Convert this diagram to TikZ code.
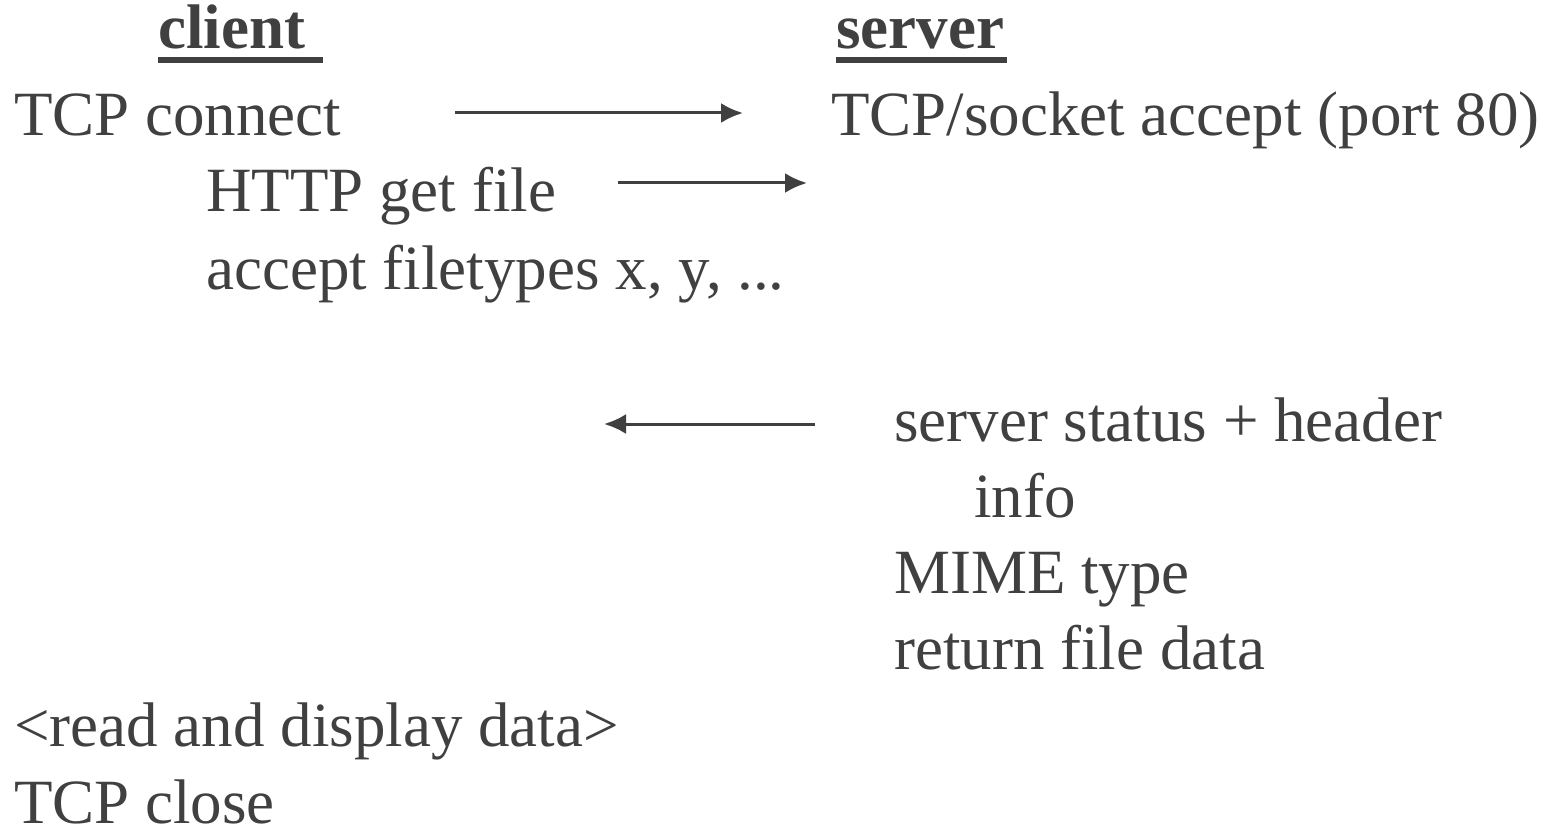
\documentclass[tikz,border=0pt]{standalone}
\usepackage{fontspec}
\setmainfont{Liberation Serif}
\usetikzlibrary{arrows.meta}
\definecolor{ink}{HTML}{404040}
\tikzstyle{txt} = [anchor=base west, inner sep=0pt, text=ink, font=\fontsize{63}{77}\selectfont]
\tikzstyle{head} = [txt, font=\fontsize{63}{77}\selectfont\bfseries]
\tikzstyle{uline} = [draw=ink, line width=6pt]
\tikzstyle{arrow} = [draw=ink, line width=3pt, -{Latex[length=22pt,width=20pt]}]
\begin{document}
\begin{tikzpicture}[x=1pt,y=-1pt]
\useasboundingbox (0,0) rectangle (1554,826);
% headings
\node (client) [head] at (158,49) {client\hspace*{18pt}};
\node (server) [head] at (836,49) {server\hspace*{3pt}};
\draw [uline] ([yshift=-11pt]client.base west) -- ([yshift=-11pt]client.base east);
\draw [uline] ([yshift=-11pt]server.base west) -- ([yshift=-11pt]server.base east);
% client side
\node (conn) [txt] at (14,136) {TCP connect};
\node (get) [txt] at (206,212) {HTTP get file};
\node (types) [txt] at (206,289) {accept filetypes x, y, ...};
\node (read) [txt] at (14,746) {<read and display data>};
\node (close) [txt] at (14,823) {TCP close};
% server side
\node (accept) [txt] at (831,136) {TCP/socket accept (port 80)};
\node (status) [txt] at (894,441) {server status + header};
\node (info) [txt] at (974,517) {info};
\node (mime) [txt] at (894,593) {MIME type};
\node (ret) [txt] at (894,669) {return file data};
% arrow ends
\coordinate (a1s) at (455,113);
\coordinate (a1e) at (743,113);
\coordinate (a2s) at (618,183);
\coordinate (a2e) at (807,183);
\coordinate (a3s) at (815,424);
\coordinate (a3e) at (604,424);
\draw [arrow] (a1s) -- (a1e);
\draw [arrow] (a2s) -- (a2e);
\draw [arrow] (a3s) -- (a3e);
\end{tikzpicture}
\end{document}
